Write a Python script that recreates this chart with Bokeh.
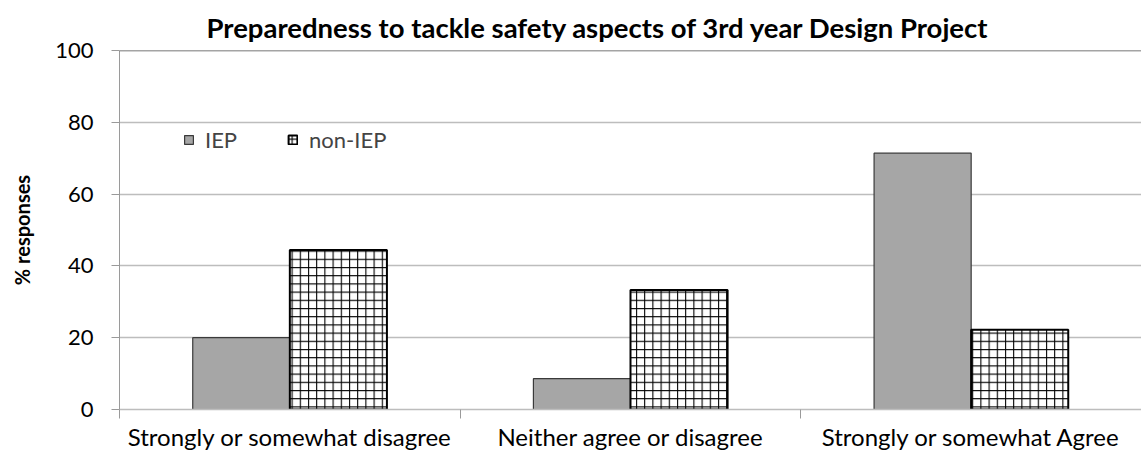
from bokeh.plotting import figure
from bokeh.models import (ColumnDataSource, Range1d, LinearAxis, FixedTicker, Legend, LegendItem,
                          Span, Title)
from bokeh.transform import dodge
from bokeh.embed import file_html
from bokeh.resources import INLINE

categories = ["Strongly or somewhat disagree", "Neither agree or disagree", "Strongly or somewhat Agree"]
iep = [20.0, 8.6, 71.4]
non_iep = [44.4, 33.3, 22.2]
series_names = ["IEP", "non-IEP"]
y_ticks = [0, 20, 40, 60, 80, 100]

FONT = "Lato"
centers = [i + 0.5 for i in range(len(categories))]
bounds = list(range(len(categories) + 1))
source = ColumnDataSource(dict(x=centers, cat=categories, iep=iep, non_iep=non_iep))

p = figure(width=1141, height=459, output_backend="svg", toolbar_location=None,
           x_range=Range1d(0, len(categories)), y_range=Range1d(0, 100), x_axis_location=None,
           min_border_left=119, min_border_right=0, min_border_top=50, min_border_bottom=50)
p.outline_line_color = None
p.background_fill_color = "white"
p.border_fill_color = "white"

p.title = Title(text="Preparedness to tackle safety aspects of 3rd year Design Project",
                align="left", offset=87, text_font=FONT, text_font_size="27.5px",
                text_font_style="bold", text_color="black", standoff=14)

bw = 0.285
r1 = p.vbar(x=dodge("x", -bw / 2), top="iep", width=bw, bottom=0, source=source,
            fill_color="#a6a6a6", line_color="#3a3a3a", line_width=1.2)
r2 = p.vbar(x=dodge("x", bw / 2), top="non_iep", width=bw, bottom=0, source=source,
            fill_color="white", line_color="black", line_width=2,
            hatch_pattern="+", hatch_color="black", hatch_scale=8.2, hatch_weight=1.1)

# y axis
p.yaxis.ticker = FixedTicker(ticks=y_ticks)
p.yaxis.axis_label = "% responses"
p.yaxis.axis_label_text_font = FONT
p.yaxis.axis_label_text_font_size = "20px"
p.yaxis.axis_label_text_font_style = "bold"
p.yaxis.axis_label_text_color = "black"
p.yaxis.axis_label_standoff = 18
p.yaxis.major_label_text_font = FONT
p.yaxis.major_label_text_font_size = "22px"
p.yaxis.major_label_text_color = "black"
p.yaxis.major_label_standoff = 18
p.yaxis.axis_line_color = "#9a9a9a"
p.yaxis.major_tick_line_color = "#9a9a9a"
p.yaxis.major_tick_out = 8
p.yaxis.major_tick_in = 0
p.yaxis.minor_tick_line_color = None

p.ygrid.ticker = FixedTicker(ticks=y_ticks[1:-1])
p.ygrid.grid_line_color = "#bdbdbd"
p.ygrid.grid_line_width = 1.5
p.xgrid.grid_line_color = None
p.add_layout(Span(location=p.y_range.end, dimension="width", line_color="#4a4a4a", line_width=1.5))

# x axis: category labels at centres, boundary ticks as minor ticks
x_axis = LinearAxis(ticker=FixedTicker(ticks=centers, minor_ticks=bounds),
                    major_label_overrides={c: lab for c, lab in zip(centers, categories)},
                    axis_line_color="#bdbdbd", axis_line_width=1.5,
                    major_tick_line_color=None, major_tick_out=0, major_tick_in=0,
                    minor_tick_line_color="#9a9a9a", minor_tick_out=9, minor_tick_in=0,
                    major_label_text_font=FONT, major_label_text_font_size="24px",
                    major_label_text_color="black", major_label_standoff=3)
p.add_layout(x_axis, "below")

legend = Legend(items=[LegendItem(label=series_names[0], renderers=[r1]),
                       LegendItem(label=series_names[1], renderers=[r2])],
                orientation="horizontal", location=(64, 256),
                label_text_font=FONT, label_text_font_size="22px",
                glyph_width=11, glyph_height=11, spacing=50, label_standoff=11,
                background_fill_alpha=0, border_line_color=None, padding=4, margin=0)
p.add_layout(legend)

open("out.html", "w").write(file_html(p, INLINE))
